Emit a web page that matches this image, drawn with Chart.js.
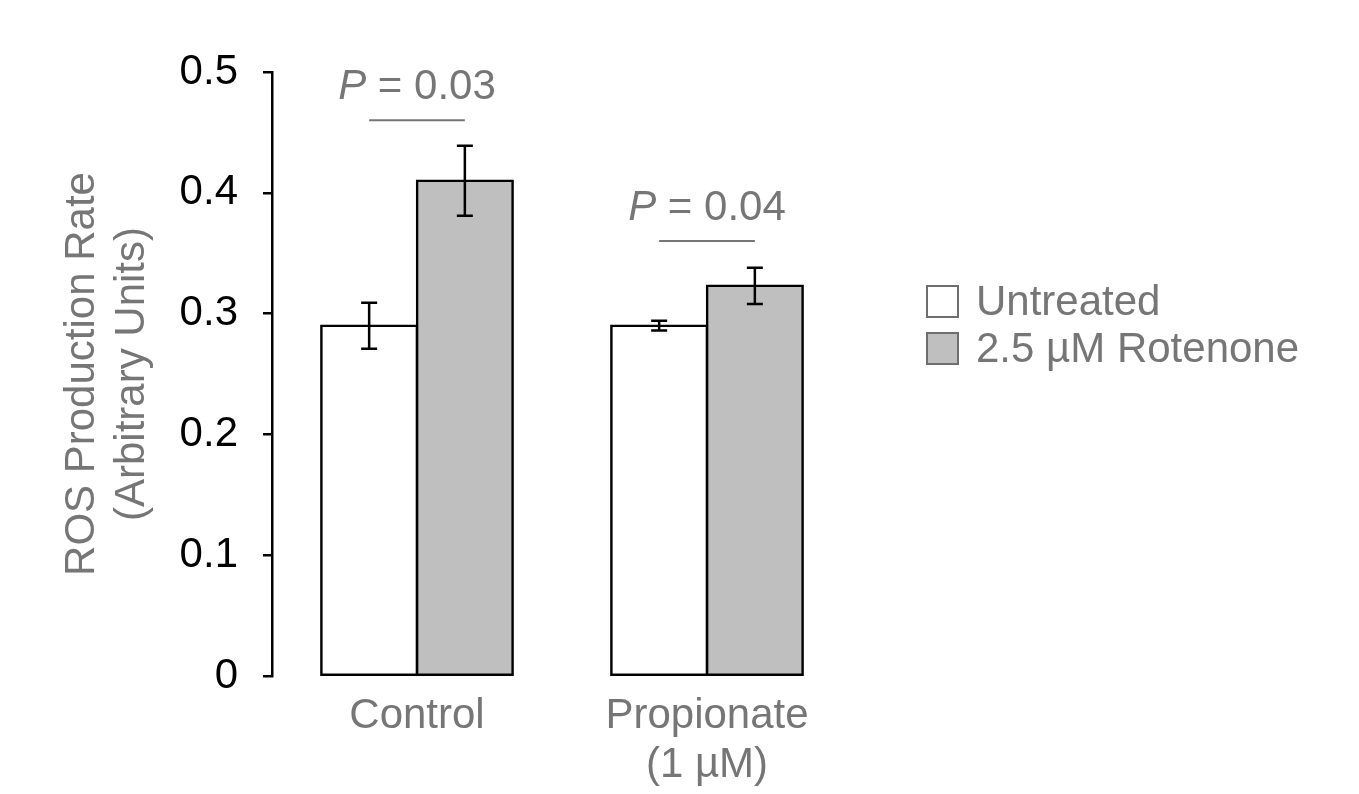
<!DOCTYPE html>
<html>
<head>
<meta charset="utf-8">
<title>ROS Production Rate</title>
<script src="https://cdn.jsdelivr.net/npm/chart.js@4/dist/chart.umd.min.js"></script>
<style>
  html, body { margin: 0; padding: 0; background: #fff; }
  .wrap { width: 1359px; height: 794px; position: relative; }
</style>
</head>
<body>
<div class="wrap"><canvas id="chart-ros"></canvas></div>
<script>
/* ---- Datos ---- */
const categories = [['Control'], ['Propionate', '(1 µM)']];
const seriesNames = ['Untreated', '2.5 µM Rotenone'];
const untreated = [0.29, 0.29];
const untreatedErr = [0.019, 0.004];
const rotenone = [0.41, 0.323];
const rotenoneErr = [0.029, 0.015];
const pValues = ['0.03', '0.04'];
const pLineAt = [0.46, 0.36];
const yTicks = [0, 0.1, 0.2, 0.3, 0.4, 0.5];

const FONT = "'Liberation Sans', Arial, sans-serif";
const FS = 42;
const GRAY = '#767676';

/* ---- Barras de error ---- */
const errorBars = {
  id: 'errorBars',
  afterDatasetsDraw(chart) {
    const { ctx, scales: { y } } = chart;
    const errs = [untreatedErr, rotenoneErr];
    ctx.save();
    ctx.strokeStyle = '#000';
    ctx.lineWidth = 2.5;
    chart.data.datasets.forEach((ds, i) => {
      chart.getDatasetMeta(i).data.forEach((bar, j) => {
        const v = ds.data[j], e = errs[i][j];
        const top = y.getPixelForValue(v + e);
        const bot = y.getPixelForValue(v - e);
        ctx.beginPath();
        ctx.moveTo(bar.x, top); ctx.lineTo(bar.x, bot);
        ctx.moveTo(bar.x - 8, top); ctx.lineTo(bar.x + 8, top);
        ctx.moveTo(bar.x - 8, bot); ctx.lineTo(bar.x + 8, bot);
        ctx.stroke();
      });
    });
    ctx.restore();
  }
};

/* ---- Valores P ---- */
const pMarks = {
  id: 'pMarks',
  afterDatasetsDraw(chart) {
    const { ctx, scales: { y } } = chart;
    const a = chart.getDatasetMeta(0).data;
    const b = chart.getDatasetMeta(1).data;
    ctx.save();
    pValues.forEach((p, j) => {
      const x1 = a[j].x, x2 = b[j].x;
      const ly = y.getPixelForValue(pLineAt[j]);
      ctx.strokeStyle = GRAY;
      ctx.lineWidth = 2;
      ctx.beginPath();
      ctx.moveTo(x1, ly); ctx.lineTo(x2, ly);
      ctx.stroke();

      const it = 'italic ' + FS + 'px ' + FONT, nm = FS + 'px ' + FONT;
      const rest = ' = ' + p;
      ctx.font = it; const w1 = ctx.measureText('P').width;
      ctx.font = nm; const w2 = ctx.measureText(rest).width;
      const x = (x1 + x2) / 2 - (w1 + w2) / 2;
      const ty = ly - 33;
      ctx.fillStyle = GRAY;
      ctx.textBaseline = 'middle';
      ctx.textAlign = 'left';
      ctx.font = it; ctx.fillText('P', x, ty);
      ctx.font = nm; ctx.fillText(rest, x + w1, ty);
    });
    ctx.restore();
  }
};

/* ---- Leyenda ---- */
const sideLegend = {
  id: 'sideLegend',
  afterDraw(chart) {
    const { ctx } = chart;
    ctx.save();
    chart.data.datasets.forEach((ds, i) => {
      const top = 286 + i * 47;
      ctx.fillStyle = ds.backgroundColor;
      ctx.fillRect(927, top, 31, 31);
      ctx.strokeStyle = '#6e6e6e';
      ctx.lineWidth = 2;
      ctx.strokeRect(927, top, 31, 31);
      ctx.fillStyle = GRAY;
      ctx.font = FS + 'px ' + FONT;
      ctx.textBaseline = 'middle';
      ctx.fillText(ds.label, 976, top + 17);
    });
    ctx.restore();
  }
};

new Chart(document.getElementById('chart-ros'), {
  type: 'bar',
  data: {
    labels: categories,
    datasets: [{
      label: seriesNames[0], data: untreated,
      backgroundColor: '#ffffff', borderColor: '#000', borderWidth: 2.5, borderSkipped: false, inflateAmount: 1.2
    }, {
      label: seriesNames[1], data: rotenone,
      backgroundColor: '#bfbfbf', borderColor: '#000', borderWidth: 2.5, borderSkipped: false, inflateAmount: 1.2
    }]
  },
  plugins: [errorBars, pMarks, sideLegend],
  options: {
    responsive: true, maintainAspectRatio: false, animation: false,
    layout: { padding: { top: 72, right: 507, bottom: 0, left: 0 } },
    datasets: { bar: { categoryPercentage: 0.66, barPercentage: 1 } },
    plugins: { legend: { display: false }, tooltip: { enabled: false } },
    scales: {
      x: {
        grid: { display: false }, border: { display: false },
        ticks: { color: GRAY, font: { family: FONT, size: FS, lineHeight: 1.17 }, padding: 8, maxRotation: 0 },
        afterFit: s => { s.height = 118; }
      },
      y: {
        min: 0, max: 0.5,
        afterBuildTicks: s => { s.ticks = yTicks.map(v => ({ value: v })); },
        grid: { drawOnChartArea: false, drawTicks: true, tickLength: 9, color: '#000', lineWidth: 2.5 },
        border: { display: true, color: '#000', width: 2.5 },
        ticks: { color: '#000', font: { family: FONT, size: FS }, padding: 25, callback: v => String(v) },
        title: {
          display: true, text: ['ROS Production Rate', '(Arbitrary Units)'], color: GRAY,
          font: { family: FONT, size: FS, lineHeight: 1.18 }, padding: { top: 58, bottom: 0 }
        },
        afterFit: s => { s.width = 272; }
      }
    }
  }
});
</script>
</body>
</html>
